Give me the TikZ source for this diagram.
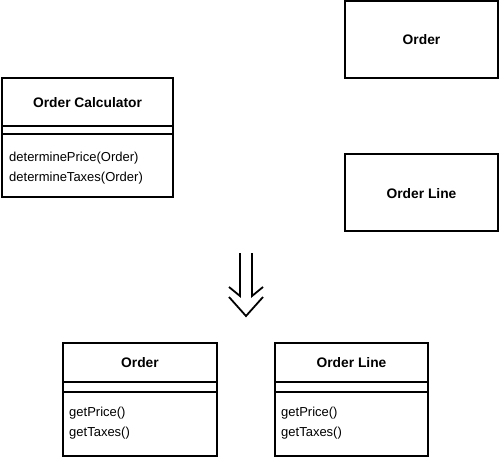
\documentclass[tikz,border=0pt]{standalone}
\usepackage{fontspec}
\setmainfont{Liberation Sans}
\begin{document}
\begin{tikzpicture}[x=1pt,y=-1pt,
  box/.style={draw=black,line width=1.2pt},
  ttl/.style={font=\fontsize{13.8}{16}\selectfont\bfseries,anchor=base,inner sep=0pt},
  meth/.style={font=\fontsize{13}{16}\selectfont,anchor=base west,inner sep=0pt},
  arr/.style={line width=1.8pt}]
\useasboundingbox (0,0) rectangle (500,460);
% Order Calculator
\draw[box] (2,78) rectangle (173,197);
\draw[box] (2,126) -- (173,126);
\draw[box] (2,134) -- (173,134);
\node[ttl] (oct) at (87.5,107) {Order Calculator};
\node[meth] (ocm1) at (9,161) {determinePrice(Order)};
\node[meth] (ocm2) at (9,181) {determineTaxes(Order)};
% Order
\draw[box] (345,1) rectangle (498,78);
\node[ttl] (o1) at (421.5,45) {Order};
% Order Line
\draw[box] (345,154) rectangle (498,231);
\node[ttl] (ol1) at (421.5,198) {Order Line};
% arrow
\coordinate (a1) at (240,253);
\coordinate (a2) at (252,253);
\draw[arr] (a1) -- (240,296) -- (229,287);
\draw[arr] (a2) -- (252,296) -- (263,287);
\draw[arr] (229,297) -- (246,316) -- (263,297);
% bottom Order
\draw[box] (63,343) rectangle (217,456);
\draw[box] (63,382) -- (217,382);
\draw[box] (63,392) -- (217,392);
\node[ttl] (o2) at (140,367) {Order};
\node[meth] (o2m1) at (69,416) {getPrice()};
\node[meth] (o2m2) at (69,436) {getTaxes()};
% bottom Order Line
\draw[box] (275,343) rectangle (428,456);
\draw[box] (275,382) -- (428,382);
\draw[box] (275,392) -- (428,392);
\node[ttl] (ol2) at (351.5,367) {Order Line};
\node[meth] (ol2m1) at (281,416) {getPrice()};
\node[meth] (ol2m2) at (281,436) {getTaxes()};
\end{tikzpicture}
\end{document}
